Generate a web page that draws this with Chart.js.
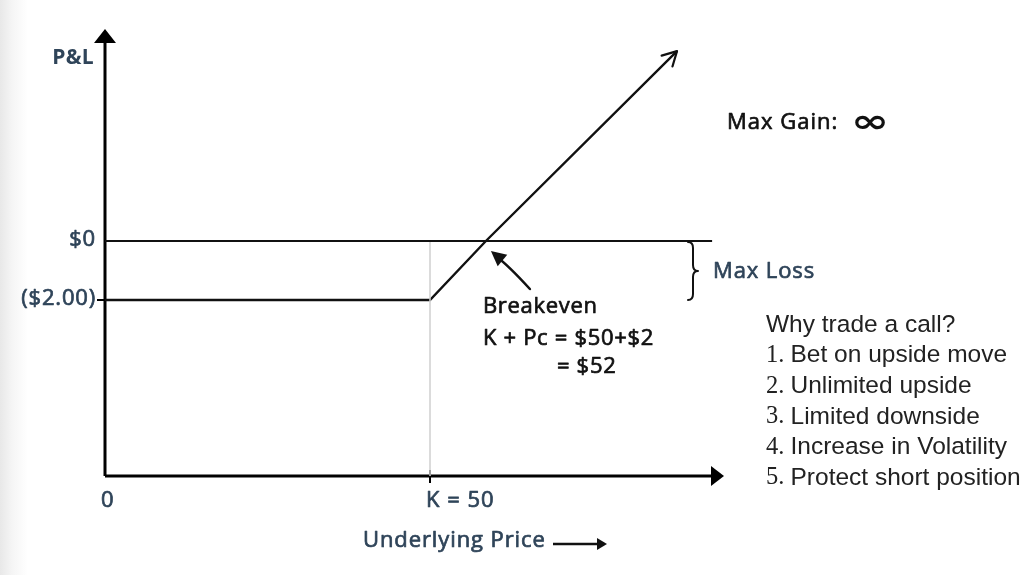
<!DOCTYPE html>
<html>
<head>
<meta charset="utf-8">
<script src="https://cdn.jsdelivr.net/npm/chart.js@4.4.1/dist/chart.umd.min.js"></script>
<style>
  html, body { margin: 0; padding: 0; background: #fff; }
  #wrap { width: 1031px; height: 575px; background: linear-gradient(to right, #e8e8e8 0, #f5f5f5 12px, #fff 28px); }
  canvas { display: block; }
</style>
</head>
<body>
<div id="wrap"><canvas id="payoffChart" width="1031" height="575"></canvas></div>
<script>
// long call payoff (schematic)
const underlyingPrice = [0, 50, 58.6, 88.0];
const profitLoss = [-2, -2, 0, 6.44];
const zeroLineEnd = 93.4;
const strike = 50;
const breakeven = 58.6;
const maxLoss = -2;
const xTicks = [0, 50];
const xTickLabels = ['0', 'K = 50'];
const yTicks = [0, -2];
const yTickLabels = ['$0', '($2.00)'];
const breakevenNote = ['Breakeven', 'K + Pc = $50+$2', '= $52'];
const reasons = ['Why trade a call?', 'Bet on upside move', 'Unlimited upside', 'Limited downside', 'Increase in Volatility', 'Protect short position'];

const xMax = 95.23, yMin = -7.97, yMax = 7.19;
const slate = '#2f4459';
const ink = '#111';
const geo = '"Open Sans", sans-serif';

function tri(ctx, tipX, tipY, angle, len, half) {
    const bx = tipX - Math.cos(angle) * len, by = tipY - Math.sin(angle) * len;
    ctx.beginPath();
    ctx.moveTo(tipX, tipY);
    ctx.lineTo(bx + Math.sin(angle) * half, by - Math.cos(angle) * half);
    ctx.lineTo(bx - Math.sin(angle) * half, by + Math.cos(angle) * half);
    ctx.closePath();
    ctx.fill();
}

// heavy = extra stroke so the thin face looks like the medium weight in the picture
function text(ctx, str, x, y, font, color, align, spacing, heavy) {
    ctx.font = font;
    ctx.fillStyle = color;
    ctx.textAlign = align || 'left';
    ctx.textBaseline = 'middle';
    ctx.letterSpacing = (spacing || 0) + 'px';
    ctx.fillText(str, x, y);
    if (heavy) {
        ctx.strokeStyle = color;
        ctx.lineWidth = heavy;
        ctx.lineJoin = 'round';
        ctx.strokeText(str, x, y);
    }
    ctx.letterSpacing = '0px';
}

const drawing = {
    id: 'drawing',
    beforeDatasetsDraw(chart) {
        const { ctx, chartArea: a, scales: { x, y } } = chart;
        const x0 = x.getPixelForValue(0);
        const yb = a.bottom;
        ctx.save();
        ctx.strokeStyle = '#000';
        ctx.fillStyle = '#000';
        ctx.lineWidth = 3;
        // axes with arrow heads
        ctx.beginPath();
        ctx.moveTo(x0, yb);
        ctx.lineTo(x0, a.top + 12);
        ctx.moveTo(x0, yb);
        ctx.lineTo(a.right - 12, yb);
        ctx.stroke();
        tri(ctx, x0, a.top, -Math.PI / 2, 14, 11);
        tri(ctx, a.right, yb, 0, 13, 10);
        // tick marks
        ctx.lineWidth = 2;
        ctx.beginPath();
        const yl = y.getPixelForValue(maxLoss);
        ctx.moveTo(x0 - 8, yl);
        ctx.lineTo(x0, yl);
        const xk = x.getPixelForValue(strike);
        ctx.moveTo(xk, yb - 6);
        ctx.lineTo(xk, yb + 7);
        ctx.stroke();
        ctx.restore();
    },
    afterDatasetsDraw(chart) {
        const { ctx, chartArea: a, scales: { x, y } } = chart;
        const x0 = x.getPixelForValue(0);
        const yb = a.bottom;
        ctx.save();
        const f = (s, w) => (w || '') + ' ' + s + 'px ' + geo;
        const hv = 0.7;

        // axis labels
        text(ctx, 'P&L', x0 - 11, a.top + 29, f(21, 'bold'), slate, 'right', 0.3);
        yTicks.forEach((v, i) => text(ctx, yTickLabels[i], x0 - 9, y.getPixelForValue(v) - 1, f(22), slate, 'right', 0.8, hv));
        xTicks.forEach((v, i) => text(ctx, xTickLabels[i], x.getPixelForValue(v) - 4, yb + 25, f(22), slate, 'left', 1, hv));
        text(ctx, 'Underlying Price', 363, yb + 65, f(22), slate, 'left', 0.9, hv);
        ctx.strokeStyle = ink; ctx.fillStyle = ink; ctx.lineWidth = 2.5;
        ctx.beginPath(); ctx.moveTo(553, yb + 68); ctx.lineTo(599, yb + 68); ctx.stroke();
        tri(ctx, 607, yb + 68, 0, 10, 6);

        // arrow at the end of the payoff line
        const n = underlyingPrice.length;
        const ex = x.getPixelForValue(underlyingPrice[n - 1]), ey = y.getPixelForValue(profitLoss[n - 1]);
        const px = x.getPixelForValue(underlyingPrice[n - 2]), py = y.getPixelForValue(profitLoss[n - 2]);
        const ang = Math.atan2(ey - py, ex - px);
        ctx.strokeStyle = ink; ctx.lineWidth = 2.2; ctx.lineCap = 'round';
        ctx.beginPath();
        ctx.moveTo(ex - Math.cos(ang - 0.5) * 16, ey - Math.sin(ang - 0.5) * 16);
        ctx.lineTo(ex, ey);
        ctx.lineTo(ex - Math.cos(ang + 0.5) * 16, ey - Math.sin(ang + 0.5) * 16);
        ctx.stroke();

        // max gain
        text(ctx, 'Max Gain:', 727, 123, f(22), ink, 'left', 1, hv);
        ctx.save();
        ctx.font = 'bold 32px "DejaVu Sans"';
        const iw = ctx.measureText('∞').width;
        ctx.translate(851, 124);
        ctx.scale(38 / iw, 1);
        ctx.fillStyle = ink; ctx.textAlign = 'left'; ctx.textBaseline = 'middle';
        ctx.fillText('∞', 0, 0);
        ctx.restore();

        // max loss brace
        const top = y.getPixelForValue(0) + 1, bot = y.getPixelForValue(maxLoss), mid = (top + bot) / 2;
        const bx = 693;
        ctx.strokeStyle = ink; ctx.lineWidth = 2;
        ctx.beginPath();
        ctx.moveTo(bx - 5, top);
        ctx.quadraticCurveTo(bx, top, bx, top + 6);
        ctx.lineTo(bx, mid - 6);
        ctx.quadraticCurveTo(bx, mid, bx + 5, mid);
        ctx.quadraticCurveTo(bx, mid, bx, mid + 6);
        ctx.lineTo(bx, bot - 6);
        ctx.quadraticCurveTo(bx, bot, bx - 5, bot);
        ctx.stroke();
        text(ctx, 'Max Loss', 713, mid + 1, f(22), slate, 'left', 0.9, hv);

        // breakeven pointer and note
        const kx = x.getPixelForValue(breakeven), ky = y.getPixelForValue(0);
        const tipX = kx + 5, tipY = ky + 10;
        const cx = kx + 22, cy = ky + 24;
        ctx.strokeStyle = ink; ctx.fillStyle = ink; ctx.lineWidth = 2.5;
        ctx.beginPath();
        ctx.moveTo(kx + 44, ky + 48);
        ctx.quadraticCurveTo(cx, cy, tipX + 6, tipY + 6);
        ctx.stroke();
        tri(ctx, tipX, tipY, Math.atan2(tipY - cy, tipX - cx), 15, 7.5);
        text(ctx, breakevenNote[0], kx - 3, ky + 66, f(22), ink, 'left', 0.7, hv);
        text(ctx, breakevenNote[1], kx - 3, ky + 98, f(22), ink, 'left', 0.7, hv);
        text(ctx, breakevenNote[2], kx + 71, ky + 126, f(22), ink, 'left', 0.7, hv);

        // reasons list
        reasons.forEach((r, i) => {
            const ly = 325 + i * 30.6;
            if (i === 0) {
                text(ctx, r, 766, ly, '24.5px "Liberation Sans"', '#222', 'left');
            } else {
                const num = i + '. ';
                text(ctx, num, 766, ly, '24.5px "Liberation Serif"', '#222', 'left');
                const w = ctx.measureText(num).width;
                text(ctx, r, 766 + w, ly, '24.5px "Liberation Sans"', '#222', 'left');
            }
        });
        ctx.restore();
    }
};

new Chart(document.getElementById('payoffChart'), {
    type: 'scatter',
    data: {
        datasets: [
            {
                data: [{ x: 0, y: 0 }, { x: zeroLineEnd, y: 0 }],
                borderColor: ink, borderWidth: 2.2
            },
            {
                data: [{ x: strike, y: yMin }, { x: strike, y: 0 }],
                borderColor: '#cfcfcf', borderWidth: 1.5
            },
            {
                data: underlyingPrice.map((v, i) => ({ x: v, y: profitLoss[i] })),
                borderColor: ink, borderWidth: 2.4
            }
        ]
    },
    options: {
        responsive: false,
        animation: false,
        devicePixelRatio: 1,
        layout: { padding: { left: 105, right: 307, top: 29, bottom: 99 } },
        datasets: { scatter: { showLine: true, pointRadius: 0, clip: false, tension: 0 } },
        plugins: { legend: { display: false }, tooltip: { enabled: false } },
        scales: {
            x: { type: 'linear', display: false, min: 0, max: xMax },
            y: { type: 'linear', display: false, min: yMin, max: yMax }
        }
    },
    plugins: [drawing]
});
</script>
</body>
</html>
